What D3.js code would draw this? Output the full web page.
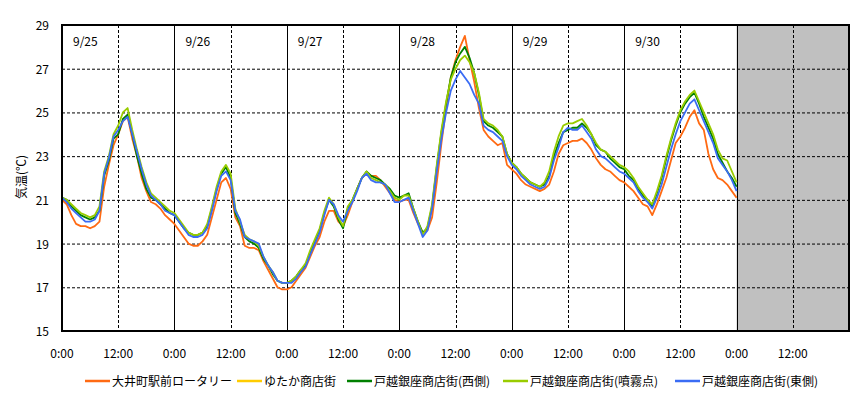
<!DOCTYPE html>
<html>
<head>
<meta charset="utf-8">
<script src="https://cdn.jsdelivr.net/npm/d3@7"></script>
<style>
  body { margin: 0; background: #fff; }
  text { font-family: "Noto Sans CJK JP", "DejaVu Sans", sans-serif; font-size: 12px; fill: #000; }
</style>
</head>
<body>
<svg width="865" height="397"></svg>
<script>
// hourly readings, 9/25 0:00 .. 10/1 0:00
var oimachi = [
  21.0,20.8,20.3,19.9,19.8,19.8,19.7,19.8,20.0,21.6,22.6,23.5,24.0,24.6,24.8,23.8,23.0,22.0,21.4,20.9,20.8,20.6,20.3,20.1,
  19.9,19.6,19.3,19.0,18.9,18.9,19.1,19.4,20.2,21.0,21.8,22.0,21.5,20.2,19.8,18.9,18.8,18.8,18.7,18.2,17.8,17.4,17.0,16.9,
  16.9,17.0,17.3,17.6,17.9,18.4,18.9,19.3,20.0,20.5,20.5,20.0,19.8,20.3,20.9,21.5,22.0,22.2,22.1,22.1,21.9,21.6,21.3,21.0,
  20.9,21.0,21.0,20.4,19.9,19.5,19.6,20.2,21.8,23.6,25.2,26.6,27.4,28.0,28.5,27.4,26.4,25.2,24.2,23.9,23.7,23.5,23.6,22.6,
  22.4,22.2,21.9,21.7,21.6,21.5,21.4,21.5,21.7,22.3,23.1,23.5,23.6,23.7,23.7,23.8,23.6,23.3,22.9,22.6,22.4,22.3,22.1,21.9,
  21.8,21.6,21.4,21.1,20.8,20.7,20.3,20.8,21.4,22.0,22.8,23.6,23.9,24.3,24.8,25.1,24.5,24.2,23.1,22.4,22.0,21.9,21.7,21.4,21.1
];
var yutaka = []; // no data shown
var nishi = [
  21.1,21.0,20.7,20.5,20.3,20.2,20.1,20.2,20.5,22.1,22.8,23.8,24.0,24.7,24.9,24.0,23.0,22.2,21.5,21.1,21.0,20.8,20.6,20.4,
  20.3,20.0,19.7,19.5,19.4,19.4,19.5,19.8,20.6,21.5,22.2,22.5,22.0,20.4,19.9,19.3,19.1,19.0,18.8,18.3,18.0,17.6,17.3,17.2,
  17.2,17.3,17.5,17.8,18.0,18.6,19.1,19.6,20.4,21.0,20.7,20.1,19.7,20.6,21.0,21.5,22.0,22.3,22.1,22.0,21.9,21.7,21.5,21.2,
  21.1,21.2,21.3,20.6,20.0,19.5,19.7,20.7,22.5,24.1,25.4,26.6,27.3,27.7,28.0,27.5,26.8,25.8,24.6,24.4,24.3,24.1,23.9,23.1,
  22.7,22.5,22.2,22.0,21.8,21.7,21.6,21.7,22.1,23.0,23.6,24.1,24.2,24.3,24.3,24.5,24.3,24.0,23.5,23.3,23.2,22.9,22.7,22.5,
  22.4,22.1,21.9,21.5,21.2,21.0,20.7,21.3,22.0,22.9,23.7,24.4,25.0,25.4,25.7,25.9,25.4,24.8,24.3,23.8,23.1,22.7,22.3,22.0,21.6
];
var funmu = [
  21.1,21.0,20.8,20.6,20.4,20.3,20.2,20.3,20.7,22.3,23.0,24.0,24.4,25.0,25.2,24.2,23.3,22.5,21.8,21.3,21.1,20.9,20.7,20.5,
  20.4,20.1,19.8,19.5,19.4,19.4,19.5,19.9,20.7,21.6,22.3,22.6,22.2,20.6,20.0,19.4,19.2,19.1,18.9,18.4,18.0,17.7,17.3,17.2,
  17.2,17.3,17.5,17.8,18.1,18.7,19.2,19.7,20.5,21.1,20.8,20.2,19.8,20.7,21.0,21.5,22.0,22.3,22.0,21.9,21.8,21.7,21.4,21.1,
  21.0,21.2,21.2,20.6,20.0,19.4,19.8,20.8,22.6,24.2,25.5,26.5,27.0,27.4,27.6,27.3,26.8,25.9,24.7,24.5,24.4,24.2,23.9,23.1,
  22.7,22.5,22.2,22.0,21.8,21.7,21.6,21.8,22.3,23.2,23.9,24.4,24.5,24.5,24.6,24.7,24.4,24.0,23.6,23.3,23.2,23.0,22.8,22.6,
  22.5,22.3,22.0,21.6,21.3,21.0,20.8,21.4,22.1,23.0,23.8,24.5,25.1,25.5,25.8,26.0,25.5,25.0,24.5,24.0,23.3,22.9,22.8,22.3,21.8
];
var higashi = [
  21.1,20.9,20.6,20.4,20.2,20.0,20.0,20.1,20.5,22.2,22.9,23.9,24.2,24.6,24.8,24.0,23.2,22.4,21.7,21.2,21.0,20.8,20.5,20.4,
  20.3,20.0,19.7,19.4,19.3,19.3,19.4,19.7,20.5,21.4,22.1,22.3,21.9,20.5,20.1,19.3,19.2,19.1,19.0,18.4,18.0,17.7,17.3,17.2,
  17.2,17.2,17.4,17.7,17.95,18.5,19.0,19.5,20.3,21.0,20.8,20.3,20.0,20.5,20.9,21.4,22.0,22.2,21.9,21.8,21.8,21.7,21.3,20.9,
  20.9,21.0,21.1,20.5,19.9,19.3,19.6,20.6,22.3,23.8,25.0,26.0,26.5,26.9,26.6,26.3,25.8,25.4,24.4,24.2,24.1,23.9,23.7,23.0,
  22.6,22.4,22.1,21.9,21.7,21.6,21.5,21.6,22.0,22.8,23.4,24.1,24.3,24.2,24.2,24.4,24.1,23.8,23.3,23.0,22.9,22.7,22.5,22.3,
  22.2,22.0,21.8,21.4,21.1,20.9,20.6,21.1,21.7,22.5,23.3,24.0,24.6,25.0,25.4,25.6,25.1,24.6,24.1,23.6,22.9,22.6,22.3,21.9,21.4
];

var seriesNames = ["大井町駅前ロータリー", "ゆたか商店街", "戸越銀座商店街(西側)", "戸越銀座商店街(噴霧点)", "戸越銀座商店街(東側)"];
var seriesData = [oimachi, yutaka, nishi, funmu, higashi];
var colors = ["#ff6a13", "#ffcc00", "#008000", "#99cc00", "#3a6cf4"];
var dayLabels = ["9/25", "9/26", "9/27", "9/28", "9/29", "9/30"];
var yTicks = [15, 17, 19, 21, 23, 25, 27, 29];

var start = new Date(2013, 8, 25, 0, 0),
    end = new Date(2013, 9, 2, 0, 0),
    noDataFrom = new Date(2013, 9, 1, 0, 0);

var svg = d3.select("svg"),
    margin = {top: 25, right: 16, bottom: 66, left: 62},
    width = +svg.attr("width") - margin.left - margin.right,
    height = +svg.attr("height") - margin.top - margin.bottom,
    g = svg.append("g").attr("transform", "translate(" + margin.left + "," + margin.top + ")");

var x = d3.scaleTime().domain([start, end]).range([0, width]);
var y = d3.scaleLinear().domain([15, 29]).range([height, 0]);

var halfDays = d3.timeHour.every(12).range(start, end);
var days = d3.timeDay.range(start, end);

// grey block where there's no data yet
g.append("rect")
    .attr("x", x(noDataFrom))
    .attr("y", 0)
    .attr("width", width - x(noDataFrom))
    .attr("height", height)
    .attr("fill", "#c0c0c0");

// horizontal dashed grid
g.selectAll(".hgrid")
    .data(yTicks.slice(1, -1))
    .enter().append("line")
    .attr("x1", 0).attr("x2", width)
    .attr("y1", function(d) { return y(d) + 0.5; })
    .attr("y2", function(d) { return y(d) + 0.5; })
    .attr("stroke", "#000")
    .attr("stroke-dasharray", "3,2");

// noon lines dashed, midnight lines solid
g.selectAll(".vgrid")
    .data(halfDays.slice(1))
    .enter().append("line")
    .attr("x1", function(d) { return Math.round(x(d)) + 0.5; })
    .attr("x2", function(d) { return Math.round(x(d)) + 0.5; })
    .attr("y1", 0).attr("y2", height)
    .attr("stroke", "#000")
    .attr("stroke-dasharray", function(d) { return d.getHours() === 12 ? "3,2" : null; });

var line = d3.line()
    .x(function(d, i) { return x(d3.timeHour.offset(start, i)); })
    .y(function(d) { return y(d); });

g.selectAll(".series")
    .data(seriesData)
    .enter().append("path")
    .attr("fill", "none")
    .attr("stroke", function(d, i) { return colors[i]; })
    .attr("stroke-width", 1.8)
    .attr("stroke-linejoin", "round")
    .attr("d", function(d) { return d.length ? line(d) : null; });

// frame
g.append("rect")
    .attr("width", width).attr("height", height)
    .attr("fill", "none")
    .attr("stroke", "#000")
    .attr("stroke-width", 2);

// date labels inside the plot
g.selectAll(".day")
    .data(days.slice(0, dayLabels.length))
    .enter().append("text")
    .attr("x", function(d) { return x(d) + 11; })
    .attr("y", 21)
    .text(function(d, i) { return dayLabels[i]; });

// axes text
g.selectAll(".ylab")
    .data(yTicks)
    .enter().append("text")
    .attr("x", -13)
    .attr("y", function(d) { return y(d) + 5; })
    .attr("text-anchor", "end")
    .text(function(d) { return d; });

g.selectAll(".xlab")
    .data(halfDays)
    .enter().append("text")
    .attr("x", function(d) { return x(d); })
    .attr("y", height + 27)
    .attr("text-anchor", "middle")
    .text(function(d) { return d3.timeFormat("%-H:%M")(d); });

svg.append("text")
    .attr("transform", "translate(26," + (margin.top + height / 2 - 1) + ") rotate(-90)")
    .attr("text-anchor", "middle")
    .text("気温(℃)");

// legend
var legendX = [85, 237, 347, 503, 675];
var legend = svg.selectAll(".legend")
    .data(seriesNames)
    .enter().append("g")
    .attr("transform", function(d, i) { return "translate(" + legendX[i] + ",381)"; });

legend.append("line")
    .attr("x1", 0).attr("x2", 25)
    .attr("stroke", function(d, i) { return colors[i]; })
    .attr("stroke-width", 2.5);

legend.append("text")
    .attr("x", 27)
    .attr("y", 5)
    .text(function(d) { return d; });
</script>
</body>
</html>
